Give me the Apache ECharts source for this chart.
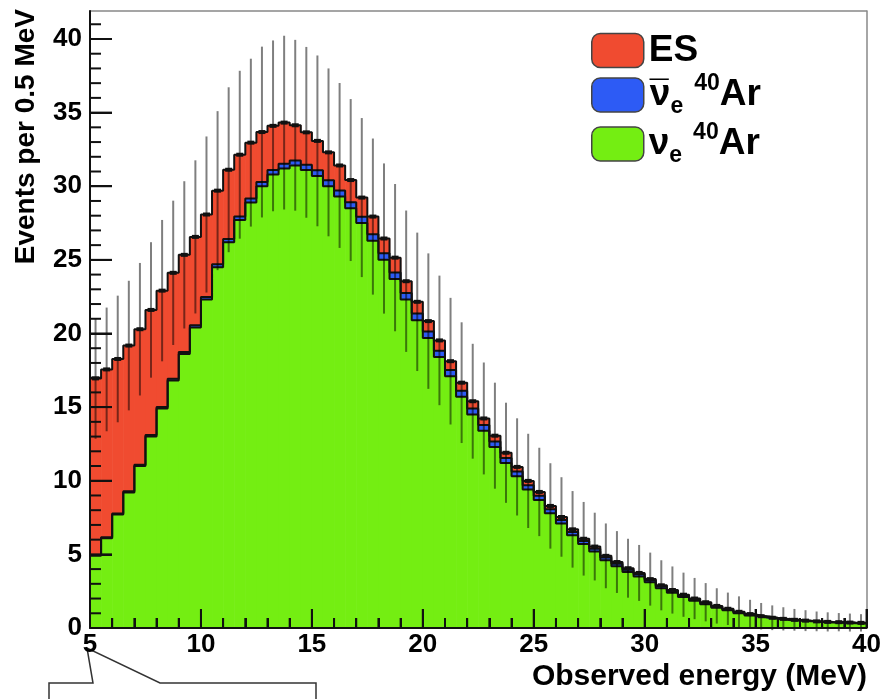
<!DOCTYPE html>
<html>
<head>
<meta charset="utf-8">
<script src="https://cdn.jsdelivr.net/npm/echarts@6/dist/echarts.min.js"></script>
<style>
  html, body { margin: 0; padding: 0; background: #fff; }
  #chart { width: 884px; height: 699px; }
</style>
</head>
<body>
<div id="chart"></div>
<script>
// lower edge of each 0.5 MeV bin
const energyLow = [
  5.0, 5.5, 6.0, 6.5, 7.0, 7.5, 8.0, 8.5, 9.0, 9.5,
  10.0, 10.5, 11.0, 11.5, 12.0, 12.5, 13.0, 13.5, 14.0, 14.5,
  15.0, 15.5, 16.0, 16.5, 17.0, 17.5, 18.0, 18.5, 19.0, 19.5,
  20.0, 20.5, 21.0, 21.5, 22.0, 22.5, 23.0, 23.5, 24.0, 24.5,
  25.0, 25.5, 26.0, 26.5, 27.0, 27.5, 28.0, 28.5, 29.0, 29.5,
  30.0, 30.5, 31.0, 31.5, 32.0, 32.5, 33.0, 33.5, 34.0, 34.5,
  35.0, 35.5, 36.0, 36.5, 37.0, 37.5, 38.0, 38.5, 39.0, 39.5
]
const binWidth = 0.5

// nu_e 40Ar (green)
const nueAr = [
  4.9, 6.1, 7.7, 9.2, 11.0, 13.0, 14.9, 16.8, 18.6, 20.4,
  22.3, 24.5, 26.2, 27.7, 28.9, 30.0, 30.8, 31.2, 31.4, 31.1,
  30.7, 30.0, 29.3, 28.5, 27.5, 26.3, 25.0, 23.7, 22.3, 20.9,
  19.7, 18.4, 17.1, 15.7, 14.5, 13.4, 12.3, 11.2, 10.3, 9.4,
  8.7, 7.8, 7.1, 6.3, 5.7, 5.2, 4.6, 4.2, 3.8, 3.5,
  3.1, 2.7, 2.4, 2.1, 1.85, 1.62, 1.38, 1.2, 1.0, 0.85,
  0.72, 0.62, 0.55, 0.49, 0.45, 0.4, 0.37, 0.35, 0.33, 0.31
]
// anti nu_e 40Ar (blue)
const nuebarAr = [
  0.05, 0.06, 0.07, 0.08, 0.09, 0.1, 0.11, 0.12, 0.14, 0.16,
  0.18, 0.2, 0.22, 0.24, 0.26, 0.28, 0.3, 0.32, 0.34, 0.36,
  0.38, 0.4, 0.41, 0.42, 0.43, 0.44, 0.45, 0.45, 0.45, 0.45,
  0.44, 0.43, 0.42, 0.41, 0.4, 0.38, 0.36, 0.34, 0.32, 0.3,
  0.28, 0.26, 0.24, 0.22, 0.2, 0.19, 0.18, 0.17, 0.16, 0.15,
  0.14, 0.13, 0.12, 0.11, 0.1, 0.09, 0.08, 0.075, 0.07, 0.065,
  0.06, 0.055, 0.05, 0.045, 0.04, 0.04, 0.035, 0.035, 0.03, 0.03
]
// elastic scattering (red)
const es = [
  12.0, 11.4, 10.5, 9.9, 9.2, 8.5, 7.9, 7.2, 6.6, 6.0,
  5.6, 5.0, 4.7, 4.2, 3.8, 3.4, 3.0, 2.8, 2.4, 2.2,
  2.0, 1.9, 1.7, 1.5, 1.3, 1.2, 1.0, 1.0, 0.8, 0.8,
  0.7, 0.7, 0.6, 0.55, 0.5, 0.45, 0.4, 0.36, 0.32, 0.29,
  0.26, 0.23, 0.2, 0.18, 0.16, 0.14, 0.12, 0.11, 0.1, 0.09,
  0.08, 0.07, 0.06, 0.05, 0.05, 0.04, 0.04, 0.03, 0.03, 0.03,
  0.02, 0.02, 0.02, 0.02, 0.01, 0.01, 0.01, 0.01, 0.01, 0.01
]
// error bar half length on the total
const errors = [
  4.1, 4.2, 4.3, 4.4, 4.5, 4.6, 4.8, 4.9, 5.0, 5.2,
  5.3, 5.4, 5.6, 5.7, 5.7, 5.8, 5.8, 5.9, 5.8, 5.8,
  5.8, 5.7, 5.6, 5.5, 5.4, 5.3, 5.1, 5.0, 4.8, 4.7,
  4.6, 4.4, 4.3, 4.1, 3.9, 3.8, 3.6, 3.4, 3.3, 3.2,
  3.0, 2.9, 2.7, 2.6, 2.5, 2.3, 2.2, 2.1, 2.0, 1.9,
  1.8, 1.7, 1.6, 1.5, 1.4, 1.3, 1.2, 1.1, 1.05, 0.97,
  0.9, 0.84, 0.79, 0.74, 0.71, 0.67, 0.65, 0.62, 0.61, 0.59
]

// tick positions (ROOT style, drawn inside the frame)
const xMajorTicks = [5, 10, 15, 20, 25, 30, 35, 40]
const xMinorTicks = [6, 7, 8, 9, 11, 12, 13, 14, 16, 17, 18, 19, 21, 22, 23, 24, 26, 27, 28, 29, 31, 32, 33, 34, 36, 37, 38, 39]
const yMajorTicks = [0, 5, 10, 15, 20, 25, 30, 35, 40]
const yMinorTicks = [1, 2, 3, 4, 6, 7, 8, 9, 11, 12, 13, 14, 16, 17, 18, 19, 21, 22, 23, 24, 26, 27, 28, 29, 31, 32, 33, 34, 36, 37, 38, 39, 41]

const font = '"Liberation Sans", Arial, Helvetica, sans-serif'
const colRed = '#f04b30', colBlue = '#2d5bf5', colGreen = '#74ee12'
const tickColor = '#111'
const xMin = 5, yMin = 0

// stack: green at bottom, blue on it, red on top
const zeros = nueAr.map(() => 0)
const greenTop = nueAr.slice()
const blueTop = nueAr.map((v, i) => v + nuebarAr[i])
const total = blueTop.map((v, i) => v + es[i])

let fillSeries = (name, color, lo, hi) => ({
  name, type: 'custom', z: 2,
  itemStyle: { color },
  data: energyLow.map((x, i) => [x, lo[i], hi[i]]),
  encode: { x: 0, y: [1, 2] },
  renderItem: (params, api) => {
    const p0 = api.coord([api.value(0), api.value(1)])
    const p1 = api.coord([api.value(0) + binWidth, api.value(2)])
    return {
      type: 'rect',
      shape: { x: p0[0], y: p1[1], width: p1[0] - p0[0] + 0.6, height: p0[1] - p1[1] },
      style: { fill: color }
    }
  }
})

let stepLine = (vals) => ({
  type: 'line', step: 'end', symbol: 'none', z: 4, silent: true,
  lineStyle: { color: '#111', width: 2 },
  data: energyLow.map((x, i) => [x, vals[i]]).concat([[energyLow[energyLow.length - 1] + binWidth, vals[vals.length - 1]]])
})

// inward ticks: 'x' ticks sit on the bottom axis, 'y' ticks on the left axis
let tickSeries = (dim, values, len) => ({
  type: 'custom', z: 8, silent: true,
  data: values.map(v => dim === 'x' ? [v, yMin] : [xMin, v]),
  encode: { x: 0, y: 1 },
  renderItem: (params, api) => {
    const p = api.coord([api.value(0), api.value(1)])
    return {
      type: 'rect',
      shape: dim === 'x'
        ? { x: p[0] - 1, y: p[1] - len, width: 2, height: len }
        : { x: p[0], y: p[1] - 1, width: len, height: 2 },
      style: { fill: tickColor }
    }
  }
})

const chart = echarts.init(document.getElementById('chart'))

const legendText = {
  'ES': '{m|ES}',
  'nuebar': '{bar|¯}{m|ν}{sub|e}{gap|}{sup|40}{m|Ar}',
  'nue': '{m|ν}{sub|e}{gap|}{sup|40}{m|Ar}'
}
const txt = { fontFamily: font, fontWeight: 'bold', color: '#000' }

chart.setOption({
  animation: false,
  backgroundColor: '#fff',
  grid: { left: 90, right: 17, top: 11, bottom: 71 },
  legend: {
    orient: 'vertical', left: 586, top: 27,
    itemWidth: 52, itemHeight: 34, itemGap: 3,
    icon: 'roundRect',
    itemStyle: { borderColor: '#444', borderWidth: 1.5 },
    data: ['ES', 'nuebar', 'nue'],
    formatter: n => legendText[n],
    textStyle: {
      rich: {
        gap: { width: 11 },
        m: { ...txt, fontSize: 37, lineHeight: 46 },
        bar: { ...txt, fontSize: 34, lineHeight: 46, width: 0.1, align: 'left', padding: [0, 0, 0, 1] },
        sub: { ...txt, fontSize: 23, lineHeight: 22, verticalAlign: 'bottom' },
        sup: { ...txt, fontSize: 23, lineHeight: 30, verticalAlign: 'top' }
      }
    }
  },
  xAxis: [{
    type: 'value', min: xMin, max: 40, interval: 5, z: 10,
    axisLine: { show: true, lineStyle: { color: tickColor, width: 2 } },
    axisTick: { show: true, inside: true, length: 19, lineStyle: { color: tickColor, width: 2 } },
    minorTick: { show: true, splitNumber: 5, length: 10, lineStyle: { color: tickColor, width: 2 } },
    splitLine: { show: false },
    axisLabel: { margin: 4, ...txt, fontSize: 26 }
  }, {
    // top frame
    type: 'value', min: xMin, max: 40, position: 'top',
    axisLine: { show: true, onZero: false, lineStyle: { color: '#888', width: 1.5 } },
    axisTick: { show: false }, axisLabel: { show: false }, splitLine: { show: false }
  }],
  yAxis: [{
    type: 'value', min: yMin, max: 41.9, interval: 5, z: 10,
    axisLine: { show: true, lineStyle: { color: tickColor, width: 2 } },
    axisTick: { show: true, inside: true, length: 22, lineStyle: { color: tickColor, width: 2 } },
    splitLine: { show: false },
    axisLabel: { margin: 8, showMaxLabel: false, ...txt, fontSize: 26 }
  }, {
    // right frame
    type: 'value', min: yMin, max: 41.9, position: 'right',
    axisLine: { show: true, onZero: false, lineStyle: { color: '#888', width: 1.5 } },
    axisTick: { show: false }, axisLabel: { show: false }, splitLine: { show: false }
  }],
  series: [
    fillSeries('ES', colRed, blueTop, total),
    fillSeries('nuebar', colBlue, greenTop, blueTop),
    fillSeries('nue', colGreen, zeros, greenTop),
    {
      // error bars with a small marker at the bin content
      type: 'custom', z: 5, silent: true,
      data: energyLow.map((x, i) => [x + binWidth / 2, total[i] - errors[i], total[i] + errors[i], total[i]]),
      encode: { x: 0, y: [1, 2] },
      renderItem: (params, api) => {
        const a = api.coord([api.value(0), api.value(1)])
        const b = api.coord([api.value(0), api.value(2)])
        const c = api.coord([api.value(0), api.value(3)])
        return {
          type: 'group',
          children: [
            { type: 'line', shape: { x1: a[0], y1: a[1], x2: b[0], y2: b[1] }, style: { stroke: 'rgba(0,0,0,0.5)', lineWidth: 2 } },
            { type: 'rect', shape: { x: c[0] - 3.5, y: c[1] - 2, width: 7, height: 4 }, style: { fill: '#111' } }
          ]
        }
      }
    },
    stepLine(greenTop),
    stepLine(blueTop),
    stepLine(total),
    tickSeries('x', xMajorTicks, 19),
    tickSeries('x', xMinorTicks, 10),
    tickSeries('y', yMajorTicks, 22),
    tickSeries('y', yMinorTicks, 11)
  ],
  graphic: [
    {
      type: 'text', x: 26, y: 9, rotation: Math.PI / 2,
      style: { text: 'Events per 0.5 MeV', fill: '#000', font: 'bold 28px ' + font, align: 'right', verticalAlign: 'middle' }
    },
    {
      type: 'text', x: 867, y: 677,
      style: { text: 'Observed energy (MeV)', fill: '#000', font: 'bold 30px ' + font, align: 'right', verticalAlign: 'middle' }
    },
    {
      type: 'polyline', silent: true,
      shape: { points: [[49, 699], [49, 683], [93, 683], [87, 648], [160, 683], [316, 683], [316, 699]] },
      style: { stroke: '#333', lineWidth: 1.5, fill: null }
    }
  ]
})
</script>
</body>
</html>
